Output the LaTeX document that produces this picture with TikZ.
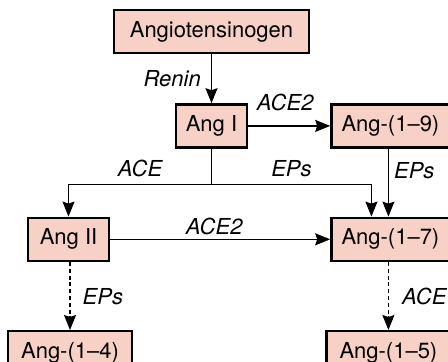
\documentclass[tikz,border=0pt]{standalone}
\usepackage{fontspec}
\setmainfont{TeX Gyre Heros}
\usetikzlibrary{arrows.meta,positioning}
\definecolor{peppink}{RGB}{247,209,197}

\begin{document}
\begin{tikzpicture}[x=0.5pt,y=-0.5pt,>={Stealth[length=7.5pt,width=6pt,inset=1pt]},
  font=\fontsize{11}{13}\selectfont,
  pep/.style={draw,line width=1.2pt,fill=peppink,minimum height=21.5pt,inner sep=2pt},
  flow/.style={->,line width=0.7pt},
  enz/.style={font=\fontsize{11}{13}\selectfont\itshape,inner sep=0pt,text depth=0pt}]
  \clip (0,0) rectangle (448,361);
  \node[pep,minimum width=97.5pt] (agt) at (211.5,31.5) {Angiotensinogen};
  \node[pep,minimum width=35.5pt,below=24.5pt of agt] (angI) {Ang I};
  \node[pep,minimum width=59pt,right=41pt of angI] (ang19) {Ang-(1–9)};
  \node[pep,minimum width=59pt,below=34pt of ang19] (ang17) {Ang-(1–7)};
  \node[pep,minimum width=40.5pt,left=110pt of ang17] (angII) {Ang II};
  \node[pep,minimum width=62pt,below=34pt of angII,xshift=0.75pt] (ang14) {Ang-(1–4)};
  \node[pep,minimum width=62pt,below=34pt of ang17,xshift=-1pt] (ang15) {Ang-(1–5)};

  \draw[flow] (agt) -- (angI) node[enz,midway,left=5pt] {Renin};
  \draw[flow] (angI) -- (ang19) node[enz,midway,above=7.5pt,xshift=-2pt] {ACE2};
  \coordinate[below=18pt of angI.south] (fork);
  \draw[line width=0.7pt] (angI) -- (fork);
  \draw[flow] (fork) -| (angII) node[enz,pos=0.25,above=3.5pt] {ACE};
  \draw[flow] (fork) -| ([xshift=-9.5pt]ang17.north) node[enz,pos=0.25,above=3.5pt] {EPs};
  \draw[flow] ([xshift=-1pt]ang19.south) -- ([xshift=-1pt]ang17.north)
    node[enz,pos=0.32,right=2.5pt] {EPs};
  \draw[flow] (angII) -- (ang17) node[enz,midway,above=2pt,xshift=-3pt] {ACE2};
  \draw[flow,dash pattern=on 2pt off 1.4pt] (angII.south -| ang14) -- (ang14)
    node[enz,midway,right=6pt] {EPs};
  \draw[flow,dash pattern=on 2pt off 1.4pt] (ang17.south -| ang15) -- (ang15)
    node[enz,midway,right=6.5pt] {ACE};
\end{tikzpicture}
\end{document}
